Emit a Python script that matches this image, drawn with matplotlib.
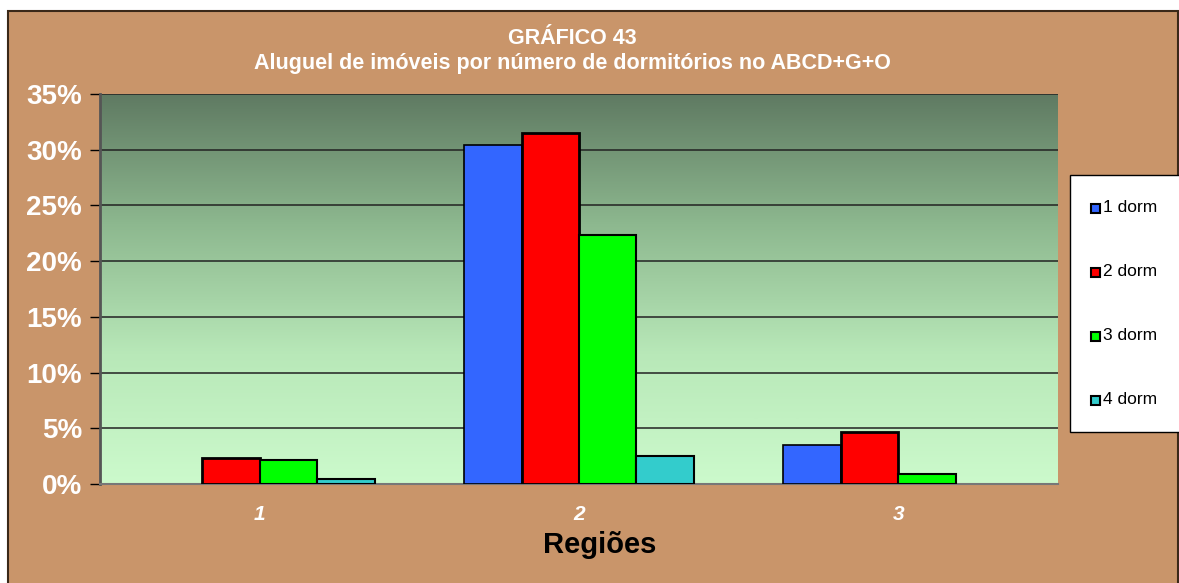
import numpy as np
import matplotlib
matplotlib.use("Agg")
import matplotlib.pyplot as plt
from matplotlib.patches import Rectangle
from matplotlib.colors import LinearSegmentedColormap

plt.rcParams["font.family"] = ["Liberation Sans", "DejaVu Sans"]

regions = ["1", "2", "3"]
series_names = ["1 dorm", "2 dorm", "3 dorm", "4 dorm"]
dorm1 = [0.0, 30.4, 3.5]
dorm2 = [2.3, 31.5, 4.7]
dorm3 = [2.15, 22.35, 0.9]
dorm4 = [0.45, 2.5, 0.0]
colors = ["#3366FF", "#FF0000", "#00FF00", "#33CCCC"]
yticks = [0, 5, 10, 15, 20, 25, 30, 35]

W, H = 1179, 583
fig = plt.figure(figsize=(W / 100, H / 100), dpi=100)
fig.patch.set_facecolor("white")
fig.patches.append(Rectangle((8 / W, -0.01), 1 - 9 / W, 1.01 - 11 / H, transform=fig.transFigure,
                             facecolor="#C9956A", edgecolor="#3a2818", linewidth=1.5, zorder=-5))

ax = fig.add_axes([100 / W, 1 - 484 / H, 958 / W, 390 / H])
cmap = LinearSegmentedColormap.from_list("g", ["#CCFACC", "#B8E8B8", "#8DB88F", "#5F7A62"])
grad = np.linspace(0, 1, 256).reshape(-1, 1)
ax.imshow(grad, aspect="auto", cmap=cmap, origin="lower",
          extent=[-0.5, 2.5, 0, 35], zorder=0)

x = np.arange(len(regions))
w = 0.18
data = [dorm1, dorm2, dorm3, dorm4]
lws = [1.2, 2.0, 1.5, 1.5]
for i, (vals, c) in enumerate(zip(data, colors)):
    bars = ax.bar(x + (i - 1.5) * w, vals, width=w, color=c, edgecolor="black",
                  linewidth=lws[i], zorder=3, label=series_names[i])
    for b, v in zip(bars, vals):
        if v == 0:
            b.set_visible(False)

ax.set_xlim(-0.5, 2.5)
ax.set_ylim(0, 35)
ax.set_yticks(yticks)
ax.set_yticklabels([f"{t}%" for t in yticks], color="white", fontsize=20, fontweight="bold")
ax.yaxis.grid(True, color="#222222", linewidth=1.1, zorder=1)
ax.set_axisbelow(True)
ax.set_xticks(x)
ax.set_xticklabels(regions, color="white", fontsize=15, fontweight="bold", style="italic")
ax.tick_params(axis="x", length=0, pad=15)
ax.tick_params(axis="y", length=7, width=1, color="black", direction="out", pad=6)
for s in ["top", "right"]:
    ax.spines[s].set_visible(False)
ax.spines["left"].set_color("#555555")
ax.spines["left"].set_linewidth(2)
ax.spines["bottom"].set_color("#777777")
ax.spines["bottom"].set_linewidth(1.5)
ax.set_xlabel("Regiões", fontsize=21, fontweight="bold", color="black")
ax.xaxis.set_label_coords((600 - 100) / 958, -(545 - 484) / 390)
ax.xaxis.label.set_va("center")

fig.text(572 / W, 1 - 38 / H, "GRÁFICO 43", ha="center", va="center",
         color="white", fontsize=15.5, fontweight="bold")
fig.text(572 / W, 1 - 63 / H, "Aluguel de imóveis por número de dormitórios no ABCD+G+O",
         ha="center", va="center", color="white", fontsize=15.5, fontweight="bold")

# legend box
fig.patches.append(Rectangle((1070 / W, 1 - 432 / H), 120 / W, 257 / H, transform=fig.transFigure,
                             facecolor="white", edgecolor="black", linewidth=1, zorder=5))
for i, (name, c) in enumerate(zip(series_names, colors)):
    yc = 208 + 64 * i
    fig.patches.append(Rectangle((1091 / W, 1 - (yc + 5) / H), 9 / W, 9 / H,
                                 transform=fig.transFigure, facecolor=c,
                                 edgecolor="black", linewidth=1.5, zorder=6))
    fig.text(1103 / W, 1 - yc / H, name, ha="left", va="center", fontsize=12.5,
             color="black", zorder=7)

fig.savefig("out.png", dpi=100, facecolor=fig.get_facecolor())
